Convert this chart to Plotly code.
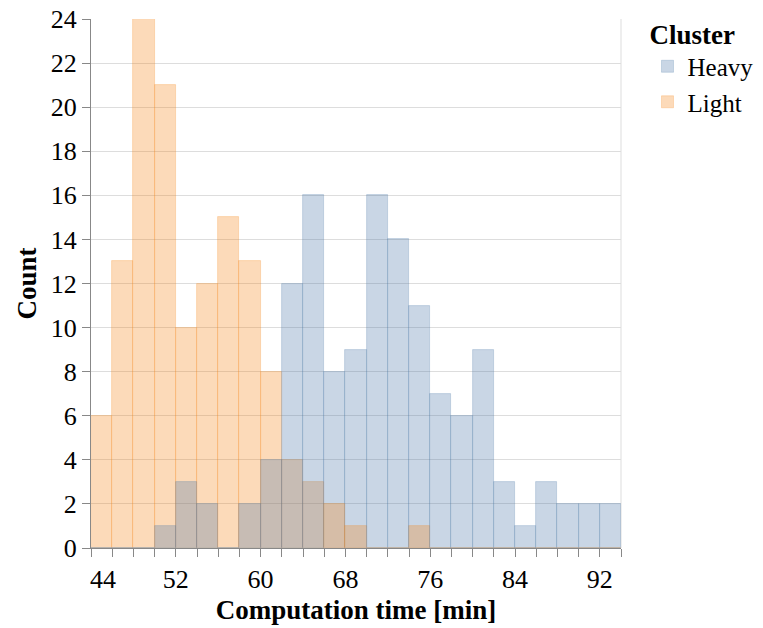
import plotly.graph_objects as go

# ---- data ----
bin_start = 44
bin_width = 2
heavy_counts = [0, 0, 0, 1, 3, 2, 0, 2, 4, 12, 16, 8, 9, 16, 14, 11, 7, 6, 9, 3, 1, 3, 2, 2, 2]
light_counts = [6, 13, 24, 21, 10, 12, 15, 13, 8, 4, 3, 2, 1, 0, 0, 1, 0, 0, 0, 0, 0, 0, 0, 0, 0]
# bins in which the "Light" bar is painted over the "Heavy" bar
light_on_top_bins = [11, 12, 15]
x_tick_values = [44, 52, 60, 68, 76, 84, 92]
y_tick_values = [0, 2, 4, 6, 8, 10, 12, 14, 16, 18, 20, 22, 24]

HEAVY = "rgba(76,120,168,0.3)"
LIGHT = "rgba(245,133,24,0.3)"
FONT = "Liberation Serif"

n = len(heavy_counts)
edges = [bin_start + i * bin_width for i in range(n + 1)]
centers = [(edges[i] + edges[i + 1]) / 2 for i in range(n)]

heavy_under = [h if i in light_on_top_bins else None for i, h in enumerate(heavy_counts)]
heavy_over = [None if i in light_on_top_bins else h for i, h in enumerate(heavy_counts)]

fig = go.Figure()
fig.add_trace(go.Bar(x=centers, y=heavy_under, width=bin_width, name="Heavy",
                     showlegend=False,
                     marker=dict(color=HEAVY, line=dict(color=HEAVY, width=0.8))))
fig.add_trace(go.Bar(x=centers, y=light_counts, width=bin_width, name="Light",
                     legendrank=2,
                     marker=dict(color=LIGHT, line=dict(color=LIGHT, width=0.8))))
fig.add_trace(go.Bar(x=centers, y=heavy_over, width=bin_width, name="Heavy",
                     legendrank=1,
                     marker=dict(color=HEAVY, line=dict(color=HEAVY, width=0.8))))

fig.update_layout(
    width=763, height=628,
    margin=dict(l=91, r=142, t=19, b=80, autoexpand=False),
    barmode="overlay", bargap=0,
    plot_bgcolor="white", paper_bgcolor="white",
    font=dict(family=FONT, size=26, color="black"),
    legend=dict(
        title=dict(text="Cluster", font=dict(family=FONT, size=27, weight="bold")),
        font=dict(family=FONT, size=25),
        x=1.05, xanchor="left", y=1.02, yanchor="top",
        tracegroupgap=0,
        bgcolor="rgba(0,0,0,0)", itemclick=False,
    ),
    xaxis=dict(
        range=[edges[0], edges[-1]],
        tickmode="array", tickvals=x_tick_values[1:],
        ticks="outside", ticklen=8, tickcolor="#888", tickwidth=1,
        tickfont=dict(family=FONT, size=26),
        minor=dict(tickmode="array", tickvals=edges, ticks="outside", ticklen=8,
                   tickcolor="#888", tickwidth=1, showgrid=False),
        showgrid=False, zeroline=False,
        showline=True, linecolor="#888", linewidth=1,
        title=dict(text="Computation time [min]", standoff=6,
                   font=dict(family=FONT, size=27, weight="bold")),
    ),
    yaxis=dict(
        range=[0, 24],
        tickmode="array", tickvals=y_tick_values,
        ticks="outside", ticklen=8, tickcolor="#888", tickwidth=1,
        tickfont=dict(family=FONT, size=26),
        showgrid=True, gridcolor="#ddd", gridwidth=1, zeroline=False,
        showline=True, linecolor="#888", linewidth=1,
        title=dict(text="Count", standoff=6,
                   font=dict(family=FONT, size=27, weight="bold")),
    ),
    shapes=[dict(type="line", xref="paper", yref="paper", x0=1, x1=1, y0=0, y1=1,
                 line=dict(color="#ddd", width=1), layer="below")],
    annotations=[dict(x=x_tick_values[0], xref="x", y=-0.028, yref="paper",
                      text=str(x_tick_values[0]), showarrow=False,
                      xanchor="left", yanchor="top", xshift=-3,
                      font=dict(family=FONT, size=26, color="black"))],
)

fig.write_html("out.html",
               config={"displayModeBar": False},
               post_script="document.body.style.margin='0';"
                           "document.body.style.overflow='hidden';")
